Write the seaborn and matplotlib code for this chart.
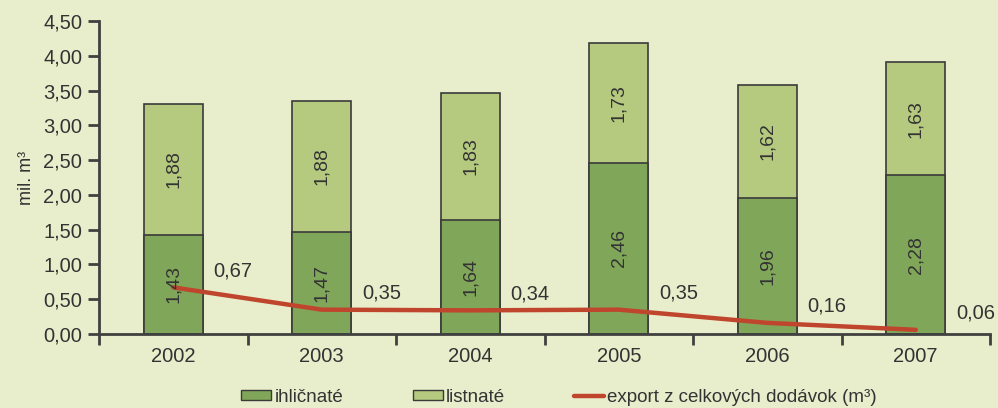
import matplotlib
matplotlib.use("Agg")
import matplotlib.pyplot as plt
import seaborn as sns
import pandas as pd
from matplotlib.patches import Patch
from matplotlib.lines import Line2D
from matplotlib.ticker import FuncFormatter, FixedLocator

years = ["2002", "2003", "2004", "2005", "2006", "2007"]
ihlicnate = [1.43, 1.47, 1.64, 2.46, 1.96, 2.28]
listnate = [1.88, 1.88, 1.83, 1.73, 1.62, 1.63]
export = [0.67, 0.35, 0.34, 0.35, 0.16, 0.06]
yticks = [0, 0.5, 1.0, 1.5, 2.0, 2.5, 3.0, 3.5, 4.0, 4.5]

sns.set_theme(style="white")
plt.rcParams["font.family"] = ["Liberation Sans", "DejaVu Sans"]

bg = "#e8eecb"
dark = "#7fa659"
light = "#b5c97f"
edge = "#3a3a3a"
red = "#c0452d"
txt = "#333333"

df = pd.DataFrame({"year": years, "ihl": ihlicnate, "lis": listnate, "exp": export})
df["total"] = df["ihl"] + df["lis"]

fig = plt.figure(figsize=(9.98, 4.08), dpi=100, facecolor=bg)
ax = fig.add_axes([99 / 998, 74 / 408, (990 - 99) / 998, (334 - 21) / 408])
ax.set_facecolor(bg)

sns.barplot(data=df, x="year", y="total", color=light, width=0.4, ax=ax,
            edgecolor=edge, linewidth=1.2, saturation=1)
sns.barplot(data=df, x="year", y="ihl", color=dark, width=0.4, ax=ax,
            edgecolor=edge, linewidth=1.2, saturation=1)
sns.lineplot(data=df, x="year", y="exp", color=red, linewidth=3.2, sort=False, ax=ax)

fmt = lambda v: f"{v:.2f}".replace(".", ",")
for i, (a, b) in enumerate(zip(ihlicnate, listnate)):
    ax.text(i, a / 2, fmt(a), rotation=90, ha="center", va="center", fontsize=14, color=txt)
    ax.text(i, a + b / 2, fmt(b), rotation=90, ha="center", va="center", fontsize=14, color=txt)
for i, e in enumerate(export):
    ax.annotate(fmt(e), (i, e), xytext=(43, 12), textcoords="offset points",
                ha="center", va="center", fontsize=14.5, color=txt)

ax.set_xlim(-0.5, 5.5)
ax.set_ylim(0, 4.5)
ax.set_yticks(yticks)
ax.yaxis.set_major_formatter(FuncFormatter(lambda v, p: fmt(v)))
ax.set_xlabel("")
ax.set_ylabel("mil. m³", fontsize=13, color=txt, labelpad=6)
ax.xaxis.set_major_locator(FixedLocator(range(len(years))))
ax.set_xticks([i - 0.5 for i in range(len(years) + 1)], minor=True)
ax.tick_params(axis="x", which="major", length=0, labelsize=14.5, labelcolor=txt, pad=9)
ax.tick_params(axis="x", which="minor", length=8, width=2, color="#404040", direction="out")
ax.tick_params(axis="y", length=8, width=2, color="#404040", direction="out",
               labelsize=14.5, labelcolor=txt, pad=4)
ax.tick_params(axis="both", left=True, bottom=True)
ax.xaxis.set_tick_params(which="minor", bottom=True)
sns.despine(ax=ax)
for s in ["left", "bottom"]:
    ax.spines[s].set_color("#404040")
    ax.spines[s].set_linewidth(2)

handles = [
    Patch(facecolor=dark, edgecolor=edge, linewidth=1),
    Patch(facecolor=light, edgecolor=edge, linewidth=1),
    Line2D([0], [0], color=red, linewidth=3.2),
]
labels = ["ihličnaté", "listnaté", "export z celkových dodávok (m³)"]
fig.legend(handles, labels, loc="center", bbox_to_anchor=(559 / 998, 1 - 397 / 408),
           ncol=3, frameon=False, handlelength=1.6, handleheight=0.45,
           handletextpad=0.16, columnspacing=3.7, labelcolor=txt,
           borderpad=0, prop={"size": 13.5})

fig.savefig("out.png", dpi=100, facecolor=bg)
